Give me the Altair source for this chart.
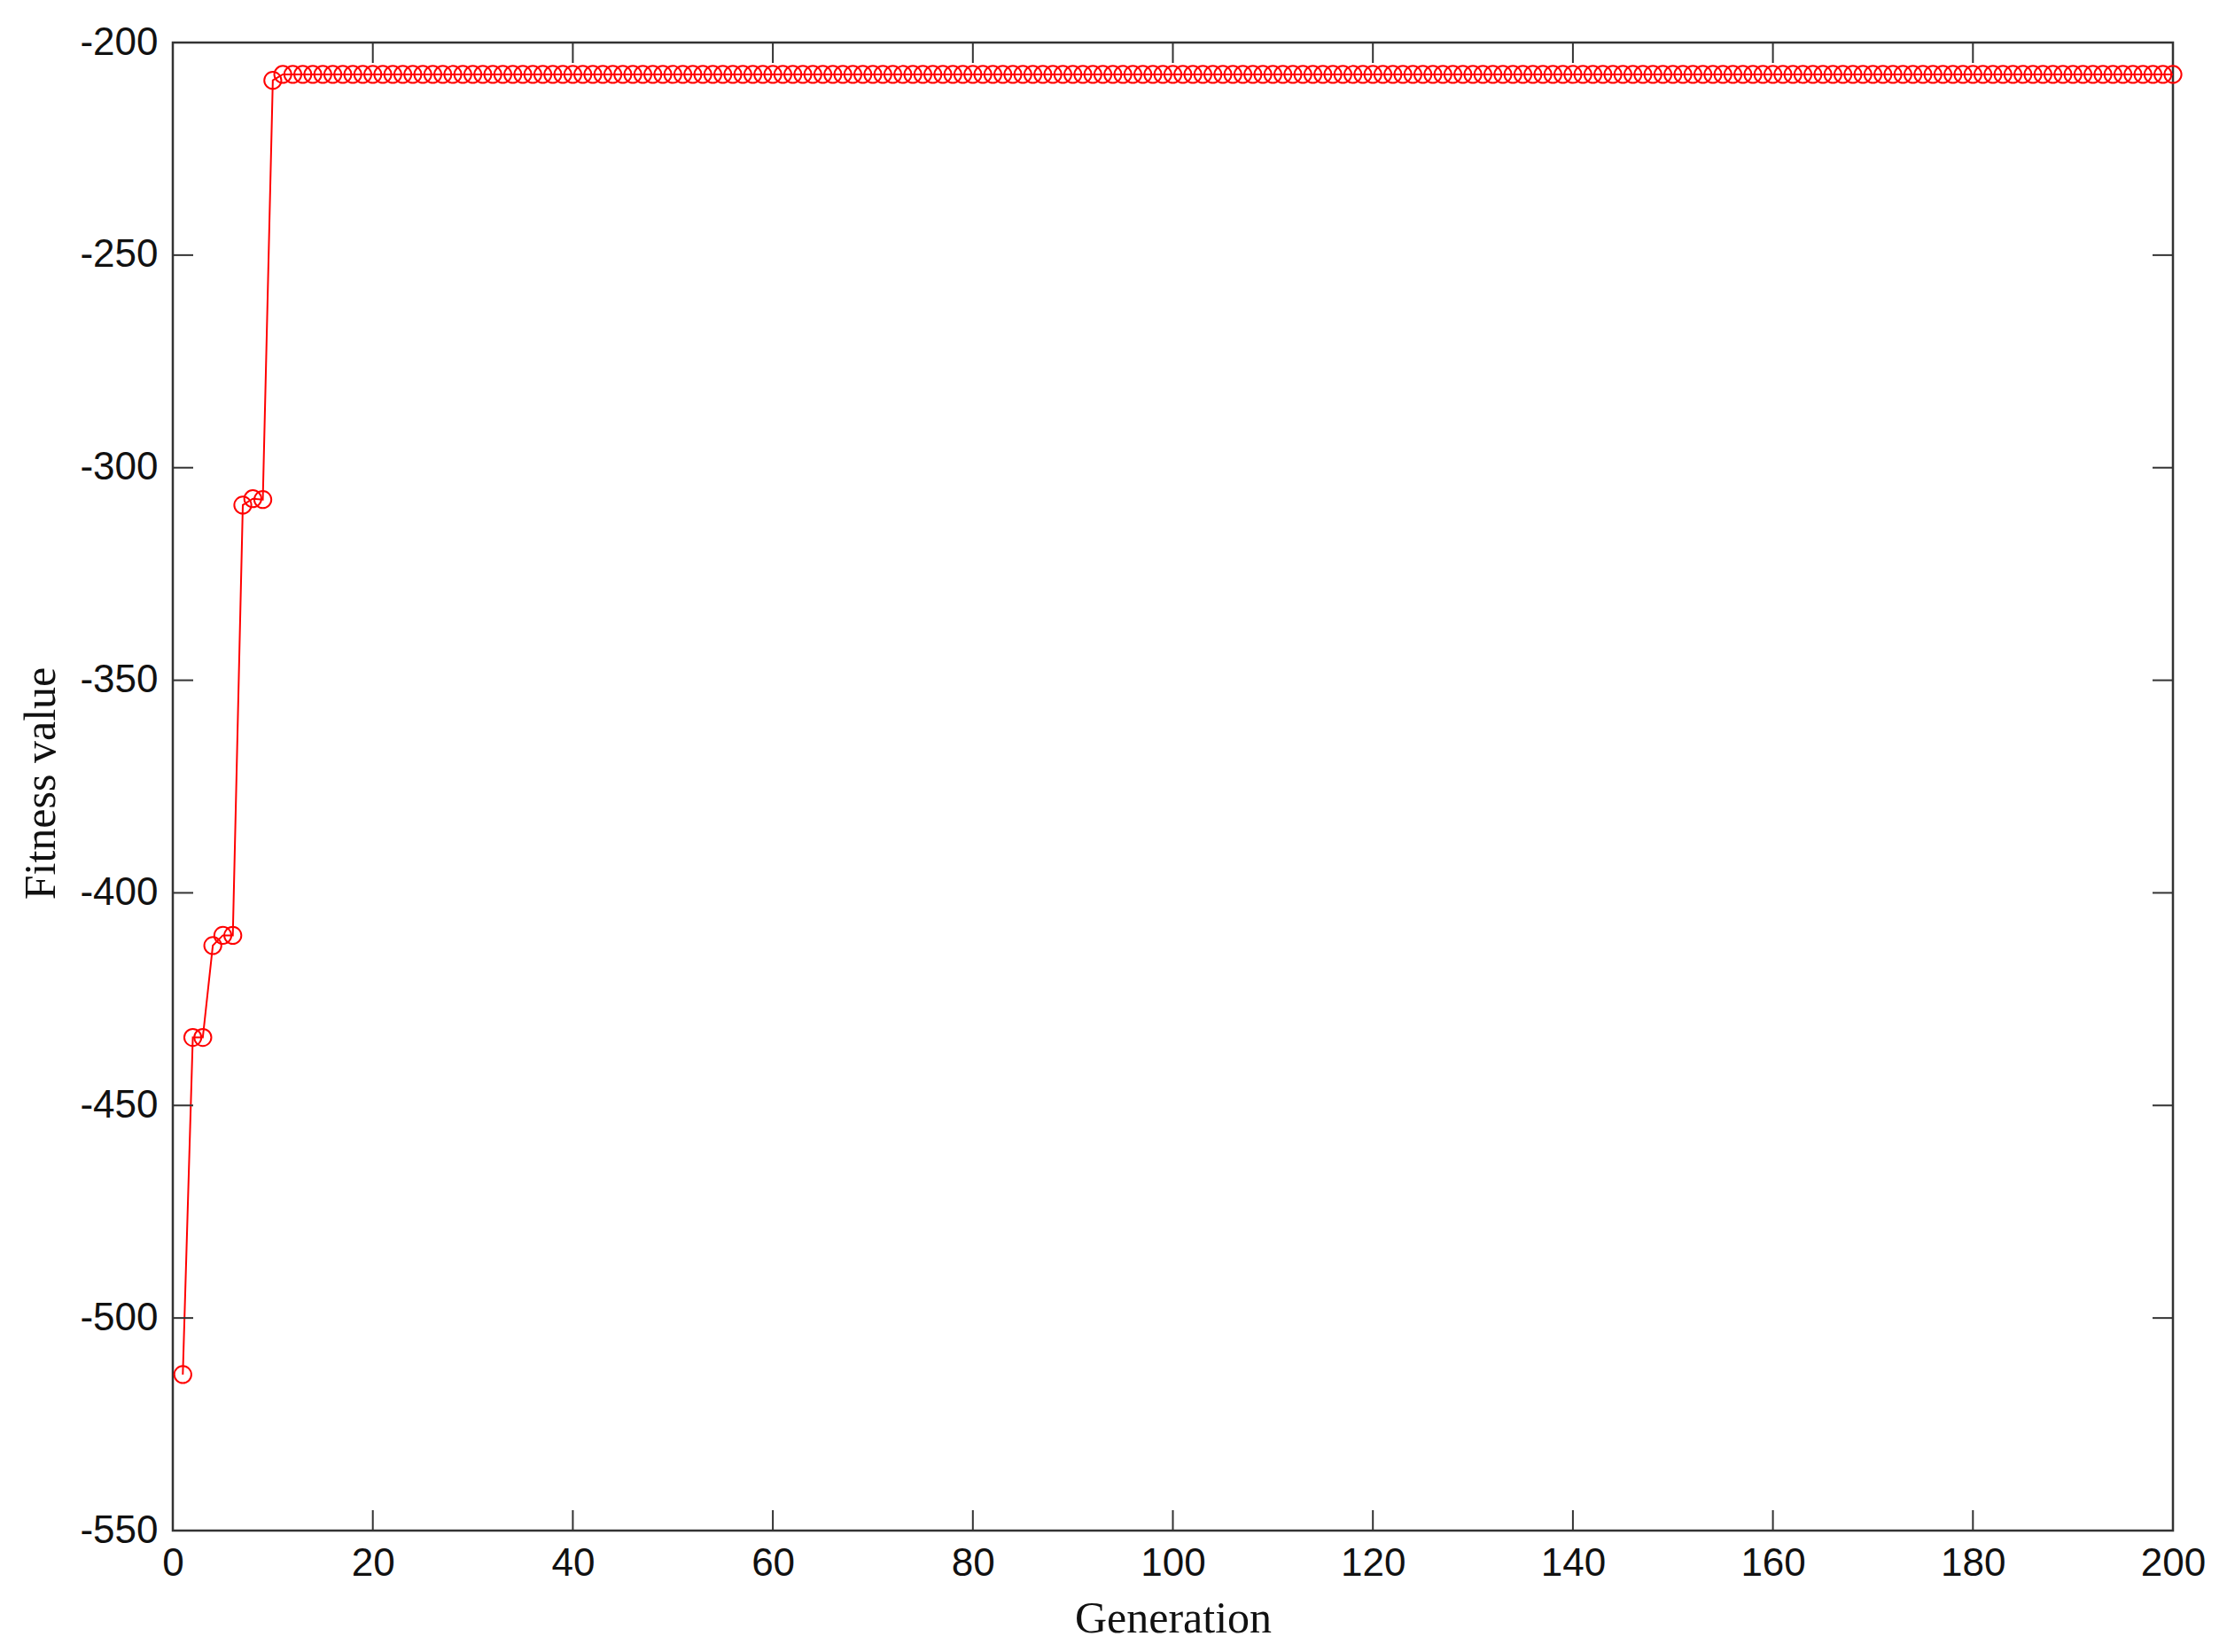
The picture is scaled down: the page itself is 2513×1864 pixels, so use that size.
import altair as alt
import pandas as pd

# ---- data ----
generations = list(range(1, 201))
fitness = [-513.3, -434.0, -434.0, -412.4, -410.0, -410.0,
           -308.8, -307.3, -307.5, -208.9] + [-207.5] * 190

x_ticks = [0, 20, 40, 60, 80, 100, 120, 140, 160, 180, 200]
y_ticks = [-550, -500, -450, -400, -350, -300, -250, -200]

W, H = 2257, 1679
TL = 23  # inward tick length
FRAME = "#333333"
RED = "#ff0000"

df = pd.DataFrame({"Generation": generations, "Fitness": fitness})
dfx = pd.DataFrame({"Generation": x_ticks})
dfy = pd.DataFrame({"Fitness": y_ticks})

xscale = alt.Scale(domain=[0, 200], nice=False, zero=False)
yscale = alt.Scale(domain=[-550, -200], nice=False, zero=False)

xaxis = alt.Axis(values=x_ticks, title="Generation", grid=False, domain=False,
                 ticks=False, tickSize=0, labelFont="Liberation Sans",
                 labelFontSize=44, labelColor="#111111", labelPadding=15,
                 labelFlush=False, labelOverlap=False,
                 labelExpr="'' + datum.value",
                 titleFont="Liberation Serif", titleFontSize=50,
                 titleFontWeight="normal", titleColor="#111111", titleY=74)
yaxis = alt.Axis(values=y_ticks, title="Fitness value", grid=False, domain=False,
                 ticks=False, tickSize=0, labelFont="Liberation Sans",
                 labelFontSize=44, labelColor="#111111", labelPadding=17,
                 labelOverlap=False,
                 labelExpr="'' + datum.value",
                 titleFont="Liberation Serif", titleFontSize=50,
                 titleFontWeight="normal", titleColor="#111111",
                 titleX=-124, titleY=H / 2 - 4)

X = alt.X("Generation:Q", scale=xscale, axis=xaxis)
Y = alt.Y("Fitness:Q", scale=yscale, axis=yaxis)

base = alt.Chart(df).encode(x=X, y=Y)
line = base.mark_line(color=RED, strokeWidth=2)
pts = base.mark_point(shape="circle", size=370, filled=False, color=RED,
                      strokeWidth=2, opacity=1)

tick_style = dict(color=FRAME, strokeWidth=2)
bottom = alt.Chart(dfx).mark_rule(**tick_style).encode(
    x=X, y=alt.value(H), y2=alt.value(H - TL))
top = alt.Chart(dfx).mark_rule(**tick_style).encode(
    x=X, y=alt.value(0), y2=alt.value(TL))
left = alt.Chart(dfy).mark_rule(**tick_style).encode(
    y=Y, x=alt.value(0), x2=alt.value(TL))
right = alt.Chart(dfy).mark_rule(**tick_style).encode(
    y=Y, x=alt.value(W), x2=alt.value(W - TL))

chart = alt.layer(line, pts, bottom, top, left, right).properties(
    width=W, height=H,
    background="white",
    autosize=alt.AutoSizeParams(type="none"),
    padding={"left": 187, "top": 40, "right": 53, "bottom": 129},
).configure_view(stroke=FRAME, strokeWidth=2.5)

chart.save("out.html", embed_options={"renderer": "svg", "actions": False})
